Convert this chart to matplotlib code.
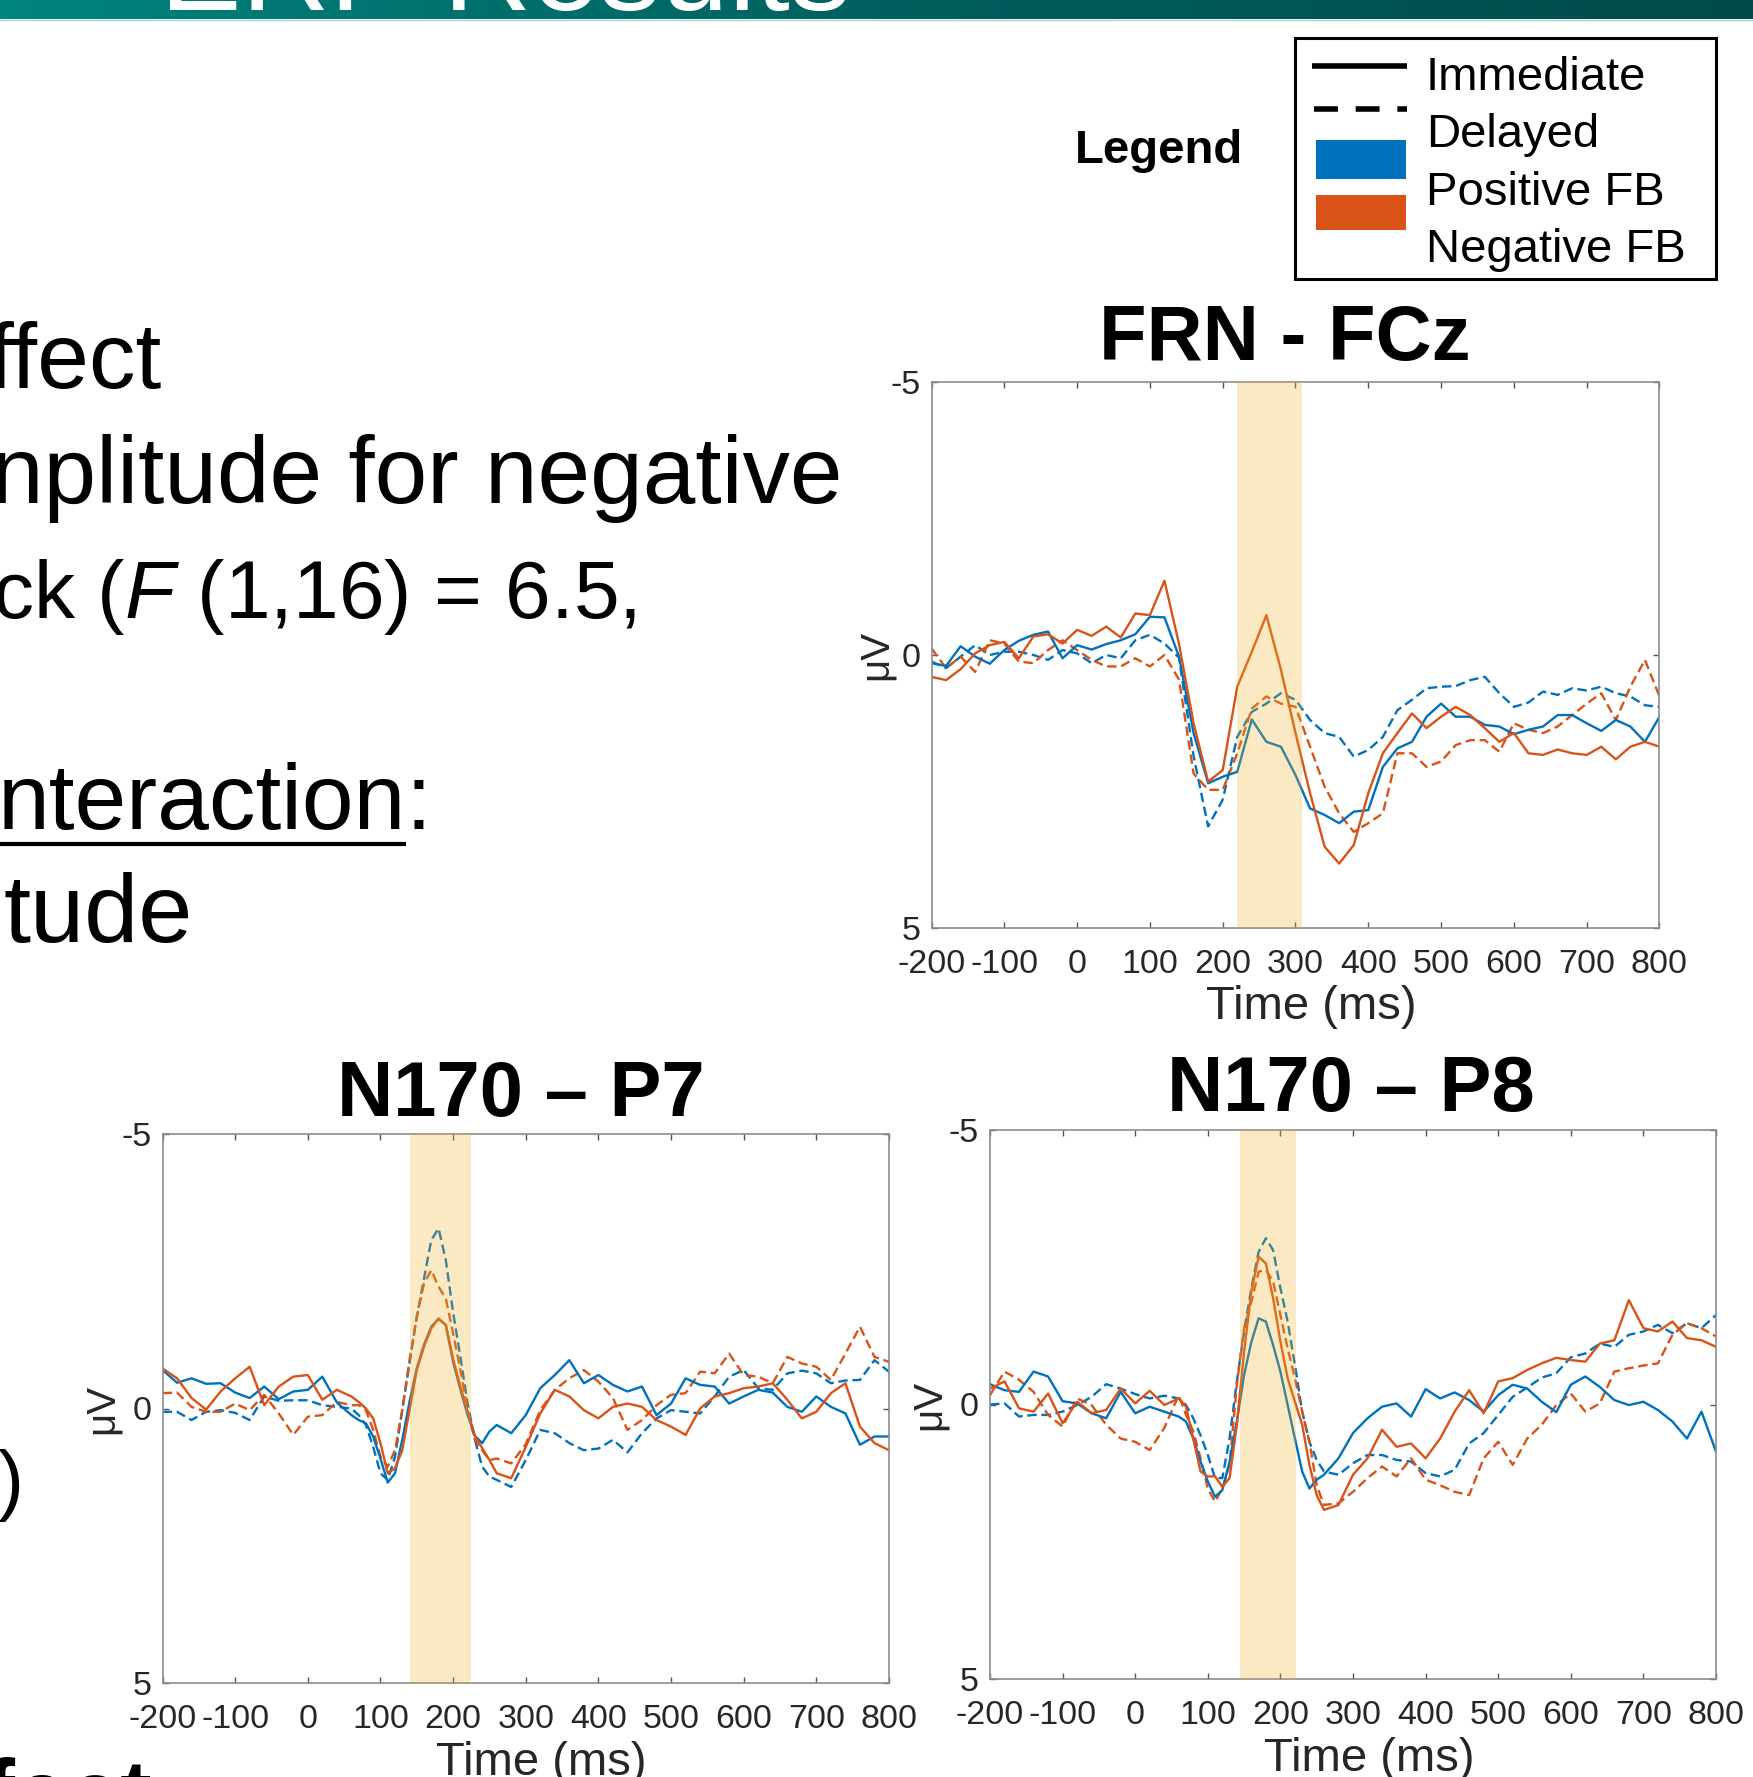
import numpy as np
import matplotlib
matplotlib.use("Agg")
import matplotlib.pyplot as plt
from matplotlib.colors import LinearSegmentedColormap
from matplotlib.patches import Rectangle

# ERP grand averages (uV); y axis is drawn negative-up
FRN_TIME = list(range(-200, 801, 20))
FRN_POS_IMM = [0.15, 0.20, -0.16, 0.03, 0.16, -0.09, -0.26, -0.37, -0.43, 0.06,
               -0.18, -0.10, -0.20, -0.27, -0.38, -0.70, -0.69, 0.03, 1.43, 2.35,
               2.23, 2.14, 1.18, 1.59, 1.68, 2.20, 2.81, 2.93, 3.08, 2.87,
               2.84, 2.05, 1.71, 1.59, 1.13, 0.89, 1.13, 1.13, 1.28, 1.31,
               1.45, 1.37, 1.31, 1.10, 1.10, 1.25, 1.39, 1.19, 1.31, 1.59, 1.13]
FRN_NEG_IMM = [0.40, 0.46, 0.26, -0.03, -0.18, -0.24, 0.06, -0.34, -0.38, -0.21,
               -0.46, -0.35, -0.52, -0.32, -0.76, -0.73, -1.36, -0.20, 1.25, 2.32,
               2.11, 0.58, -0.06, -0.73, 0.27, 1.43, 2.53, 3.51, 3.82, 3.48,
               2.53, 1.80, 1.43, 1.07, 1.34, 1.13, 0.95, 1.10, 1.34, 1.59,
               1.43, 1.80, 1.83, 1.73, 1.80, 1.83, 1.68, 1.91, 1.68, 1.59, 1.68]
FRN_POS_DEL = [0.12, 0.24, 0.03, -0.18, 0.00, -0.06, -0.06, 0.00, 0.09, -0.09,
               -0.03, 0.15, 0.00, 0.06, -0.27, -0.37, -0.21, 0.05, 1.85, 3.14,
               2.65, 1.50, 1.04, 0.89, 0.70, 0.82, 1.19, 1.43, 1.50, 1.86,
               1.74, 1.50, 1.01, 0.82, 0.61, 0.58, 0.57, 0.46, 0.40, 0.70,
               0.95, 0.87, 0.67, 0.73, 0.61, 0.65, 0.58, 0.70, 0.76, 0.92, 0.95]
FRN_NEG_DEL = [-0.12, 0.24, 0.03, 0.31, -0.27, -0.21, 0.12, 0.15, -0.09, -0.27,
               -0.09, 0.09, 0.21, 0.21, 0.06, 0.21, 0.00, 0.45, 2.17, 2.47,
               2.47, 1.80, 0.98, 0.76, 0.89, 0.95, 1.68, 2.41, 2.90, 3.24,
               3.08, 2.90, 1.80, 1.80, 2.05, 1.95, 1.65, 1.56, 1.56, 1.77,
               1.25, 1.37, 1.43, 1.31, 1.10, 0.89, 0.70, 1.19, 0.58, 0.09, 0.76]

# N170 traces: denser sampling around the component
N170_TIME = list(range(-200, 60, 20)) + list(range(60, 260, 10)) + list(range(260, 801, 20))
P7_POS_IMM = [-0.70, -0.47, -0.55, -0.45, -0.46, -0.29, -0.19, -0.40, -0.17, -0.31, -0.34, -0.58, -0.11,
              0.12, 0.21, 0.27, 0.51, 0.91, 1.35, 1.18, 0.57, -0.12, -0.73, -1.16, -1.49, -1.63, -1.52,
              -0.85, -0.35, 0.12, 0.50, 0.63, 0.42,
              0.30, 0.45, 0.12, -0.37, -0.61, -0.88, -0.46, -0.61, -0.43, -0.31, -0.40, 0.12, -0.09, -0.55,
              -0.43, -0.40, -0.09, -0.22, -0.34, -0.29, -0.03, 0.06, -0.22, -0.03, 0.09, 0.66, 0.51, 0.51]
P7_NEG_IMM = [-0.73, -0.55, -0.19, 0.02, -0.31, -0.55, -0.76, -0.06, -0.40, -0.58, -0.61, -0.16, -0.34,
              -0.22, -0.12, 0.00, 0.18, 0.63, 1.18, 1.09, 0.76, 0.03, -0.70, -1.13, -1.46, -1.64, -1.52,
              -0.90, -0.40, 0.05, 0.50, 0.72, 0.94,
              1.18, 1.27, 0.70, 0.09, -0.34, -0.22, 0.03, 0.18, -0.03, -0.09, -0.03, 0.21, 0.33, 0.48,
              0.00, -0.22, -0.28, -0.37, -0.40, -0.46, -0.16, 0.18, 0.06, -0.28, -0.46, 0.33, 0.63, 0.76]
P7_POS_DEL = [0.06, 0.06, 0.21, 0.06, 0.03, 0.08, 0.21, -0.22, -0.14, -0.15, -0.15, -0.06, -0.03,
              0.00, 0.12, 0.30, 0.70, 1.18, 1.30, 0.88, 0.03, -0.82, -1.67, -2.37, -3.07, -3.28, -2.70,
              -1.75, -0.94, -0.09, 0.57, 1.06, 1.24,
              1.30, 1.43, 0.94, 0.39, 0.45, 0.63, 0.76, 0.73, 0.57, 0.80, 0.45, 0.18, 0.03, 0.06,
              0.09, -0.22, -0.58, -0.70, -0.37, -0.34, -0.64, -0.69, -0.64, -0.46, -0.51, -0.52, -0.88, -0.67]
P7_NEG_DEL = [-0.28, -0.29, -0.03, 0.06, 0.06, -0.09, 0.03, -0.25, 0.09, 0.48, 0.15, 0.12, -0.12,
              -0.06, -0.06, 0.03, 0.39, 0.88, 1.06, 0.76, 0.03, -0.88, -1.67, -2.28, -2.52, -2.22, -2.00,
              -1.37, -0.70, 0.03, 0.57, 0.76, 0.94,
              0.91, 1.00, 0.65, 0.03, -0.34, -0.55, -0.70, -0.49, -0.19, 0.39, 0.21, -0.06, -0.25, -0.28,
              -0.67, -0.64, -1.00, -0.61, -0.58, -0.46, -0.94, -0.82, -0.76, -0.52, -1.00, -1.49, -0.94, -0.85]
P8_POS_IMM = [-0.37, -0.26, -0.23, -0.60, -0.51, -0.06, -0.02, 0.16, 0.25, -0.23, 0.16, 0.04, 0.13,
              0.22, 0.31, 0.62, 1.04, 1.40, 1.68, 1.56, 1.04, 0.31, -0.54, -1.14, -1.57, -1.51, -1.08,
              -0.60, 0.01, 0.62, 1.22, 1.53, 1.37,
              1.28, 0.98, 0.52, 0.25, 0.04, -0.02, 0.22, -0.28, -0.11, -0.22, -0.08, 0.13, -0.17, -0.36,
              -0.29, -0.05, 0.14, -0.36, -0.51, -0.32, -0.08, 0.01, -0.05, 0.10, 0.31, 0.62, 0.13, 0.86]
P8_NEG_IMM = [-0.29, -0.42, 0.07, 0.13, -0.20, 0.34, -0.05, 0.16, 0.10, -0.29, -0.02, -0.25, 0.01,
              -0.11, 0.04, 0.62, 1.22, 1.31, 1.31, 1.50, 1.34, 0.37, -0.96, -2.06, -2.69, -2.57, -1.93,
              -1.15, -0.48, -0.05, 0.37, 1.10, 1.65,
              1.92, 1.83, 1.28, 0.98, 0.46, 0.77, 0.71, 0.98, 0.62, 0.13, -0.26, 0.16, -0.42, -0.48,
              -0.63, -0.75, -0.85, -0.81, -0.78, -1.11, -1.17, -1.90, -1.39, -1.33, -1.51, -1.21, -1.17, -1.05]
P8_POS_DEL = [0.00, -0.02, 0.22, 0.19, 0.19, 0.13, 0.01, -0.14, -0.37, -0.29, -0.19, -0.11, -0.16,
              -0.11, 0.01, 0.25, 0.56, 0.92, 1.34, 1.34, 0.62, -0.42, -1.33, -2.12, -2.78, -3.03, -2.81,
              -2.12, -1.51, -0.72, 0.13, 0.68, 1.01,
              1.22, 1.28, 1.07, 0.92, 0.92, 1.01, 1.04, 1.25, 1.31, 1.19, 0.71, 0.52, 0.19, -0.14,
              -0.31, -0.49, -0.57, -0.86, -0.93, -1.11, -1.05, -1.27, -1.33, -1.45, -1.30, -1.48, -1.39, -1.63]
P8_NEG_DEL = [-0.17, -0.60, -0.45, -0.23, 0.19, 0.40, -0.11, 0.01, 0.37, 0.62, 0.68, 0.83, 0.43,
              -0.17, 0.19, 0.49, 0.98, 1.53, 1.77, 1.53, 1.10, -0.36, -1.39, -1.87, -2.42, -2.45, -2.24,
              -1.63, -1.02, -0.48, 0.13, 0.68, 1.47,
              1.83, 1.80, 1.59, 1.34, 1.13, 1.31, 0.98, 1.37, 1.47, 1.59, 1.65, 0.98, 0.68, 1.10,
              0.62, 0.37, 0.01, -0.20, 0.13, -0.02, -0.60, -0.66, -0.71, -0.75, -1.27, -1.48, -1.39, -1.24]

# analysis windows (ms)
FRN_WINDOW = (220, 309)
P7_WINDOW = (140, 224)
P8_WINDOW = (144, 221)

LEGEND_LABELS = ["Immediate", "Delayed", "Positive FB", "Negative FB"]

W, H = 1753, 1777
BLUE = "#0072BD"
ORANGE = "#D95319"
SHADE = "#EDB120"
INK = "#262626"

plt.rcParams["font.family"] = ["Liberation Sans", "DejaVu Sans"]
plt.rcParams["axes.unicode_minus"] = False
plt.rcParams["mathtext.fontset"] = "custom"
plt.rcParams["mathtext.rm"] = "Liberation Sans"
plt.rcParams["mathtext.it"] = "Liberation Sans:italic"

fig = plt.figure(figsize=(W / 100, H / 100), dpi=100)
fig.patch.set_facecolor("white")

# full-page overlay in pixel coordinates for the slide decoration
bg = fig.add_axes([0, 0, 1, 1])
teal = LinearSegmentedColormap.from_list("teal", ["#00847E", "#00605F", "#004A4B"])
bg.imshow(np.linspace(0, 1, 256)[None, :], cmap=teal, extent=(0, W, 19, 0), aspect="auto")
bg.plot([0, W], [19.5, 19.5], color="#A5D2CE", lw=1.0)
bg.set_xlim(0, W)
bg.set_ylim(H, 0)
bg.axis("off")

bg.text(160, 10, "ERP Results", color="white", fontsize=88, ha="left", va="baseline")

# slide body text, cut by the left edge
bg.text(162, 388, "ffect", fontsize=67, ha="right", va="baseline")
bg.text(843, 503, "nplitude for negative", fontsize=68, ha="right", va="baseline")
bg.text(636, 618, r"ck ($\mathit{F}$ (1,16) = 6.5,", fontsize=59, ha="right", va="baseline")
bg.text(406, 829, "nteraction", fontsize=67, ha="right", va="baseline")
bg.text(406, 829, ":", fontsize=67, ha="left", va="baseline")
bg.plot([0, 406], [844, 844], color="black", lw=3, solid_capstyle="butt")
bg.text(193, 942, "tude", fontsize=70, ha="right", va="baseline")
bg.text(24, 1506, ")", fontsize=56, ha="right", va="baseline")
bg.text(152, 1826, "ffect", fontsize=68, fontweight="bold", ha="right", va="baseline")

# legend box
bg.text(1159, 163, "Legend", fontsize=34, fontweight="bold", ha="center", va="baseline")
bg.add_patch(Rectangle((1295, 37.5), 421, 241, fill=False, ec="black", lw=2.2))
bg.plot([1312, 1407], [66, 66], color="black", lw=4, solid_capstyle="butt")
bg.plot([1314, 1407], [109, 109], color="black", lw=4, dashes=(4.3, 3.2), dash_capstyle="butt")
bg.add_patch(Rectangle((1316, 140), 90, 39, color=BLUE, lw=0))
bg.add_patch(Rectangle((1316, 195), 90, 35, color=ORANGE, lw=0))
for label, yb in zip(LEGEND_LABELS, [90, 147, 205, 262]):
    bg.text(1426, yb, label, fontsize=34, ha="left", va="baseline")

# panel titles
bg.text(1285, 360, "FRN - FCz", fontsize=56, fontweight="bold", ha="center", va="baseline")
bg.text(521, 1116, "N170 \u2013 P7", fontsize=56, fontweight="bold", ha="center", va="baseline")
bg.text(1351, 1111, "N170 \u2013 P8", fontsize=56, fontweight="bold", ha="center", va="baseline")


def erp_panel(box, times, pos_imm, neg_imm, pos_del, neg_del, window, ylab_x):
    x0, y0, x1, y1 = box
    ax = fig.add_axes([x0 / W, 1 - y1 / H, (x1 - x0) / W, (y1 - y0) / H])
    style = dict(lw=1.7, solid_joinstyle="round", dash_joinstyle="round")
    ax.plot(times, pos_del, color=BLUE, dashes=(4, 2), **style)
    ax.plot(times, neg_del, color=ORANGE, dashes=(4, 2), **style)
    ax.plot(times, pos_imm, color=BLUE, **style)
    ax.plot(times, neg_imm, color=ORANGE, **style)
    # analysis window drawn translucent over the traces
    ax.axvspan(window[0], window[1], color=SHADE, alpha=0.27, lw=0, zorder=5)

    ax.set_xlim(-200, 800)
    ax.set_ylim(5, -5)
    ax.set_xticks(range(-200, 801, 100))
    ax.set_yticks([-5, 0, 5])
    ax.tick_params(direction="in", top=True, right=True, length=4.5, width=1,
                   color="#555555", labelsize=24.5, labelcolor=INK)
    ax.tick_params(axis="x", pad=15)
    ax.tick_params(axis="y", pad=8)
    for sp in ax.spines.values():
        sp.set_color("#8c8c8c")
        sp.set_linewidth(1.2)

    ax.set_xlabel("Time (ms)", fontsize=34, color=INK)
    ax.xaxis.set_label_coords(0.522, -0.145)
    ax.xaxis.label.set_va("center")
    ax.set_ylabel("\u03bcV", fontsize=29, color=INK)
    ax.yaxis.set_label_coords(ylab_x, 0.5)
    ax.yaxis.label.set_va("center")
    return ax


erp_panel((931.5, 382, 1659.5, 928), FRN_TIME, FRN_POS_IMM, FRN_NEG_IMM,
          FRN_POS_DEL, FRN_NEG_DEL, FRN_WINDOW, -0.076)
erp_panel((162.5, 1134, 889, 1683), N170_TIME, P7_POS_IMM, P7_NEG_IMM,
          P7_POS_DEL, P7_NEG_DEL, P7_WINDOW, -0.083)
erp_panel((990, 1130, 1716, 1679), N170_TIME, P8_POS_IMM, P8_NEG_IMM,
          P8_POS_DEL, P8_NEG_DEL, P8_WINDOW, -0.084)

fig.savefig("out.png", dpi=100)
